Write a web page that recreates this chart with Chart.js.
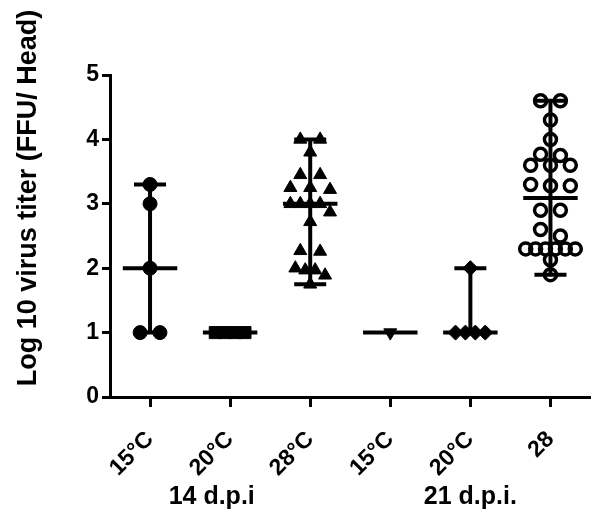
<!DOCTYPE html>
<html><head><meta charset="utf-8">
<script src="https://cdn.jsdelivr.net/npm/chart.js@4.4.0/dist/chart.umd.min.js"></script>
<style>html,body{margin:0;padding:0;background:#fff;}</style>
</head><body>
<canvas id="c" width="600" height="514"></canvas>
<script>
// ---- data ----
const categories = ['15°C', '20°C', '28°C', '15°C', '20°C', '28'];
const groupLabels = ['14 d.p.i', '21 d.p.i.'];
const yTickValues = [0, 1, 2, 3, 4, 5];
const yTitle = 'Log 10 virus titer (FFU/ Head)';

const titer14d15C = [3.3, 3.0, 2.0, 1.0, 1.0];
const titer14d20C = [1.0, 1.0, 1.0, 1.0];
const titer14d28C = [4.0, 4.0, 3.8, 3.45, 3.45, 3.25, 3.22, 3.25, 3.0, 3.0, 3.0, 3.0, 2.87, 2.72, 2.27, 2.26, 2.0, 1.97, 1.97, 1.89, 1.75];
const titer21d15C = [1.0];
const titer21d20C = [2.0, 1.0, 1.0, 1.0, 1.0];
const titer21d28C = [4.6, 4.6, 4.3, 4.0, 3.77, 3.75, 3.6, 3.6, 3.6, 3.3, 3.28, 3.28, 2.9, 2.9, 2.6, 2.5, 2.3, 2.3, 2.3, 2.3, 2.3, 2.3, 2.13, 1.9];

const groups = [titer14d15C, titer14d20C, titer14d28C, titer21d15C, titer21d20C, titer21d28C];

// ---- styles ----
const FONT = "'Liberation Sans', Arial, sans-serif";
const markerStyles = [
  {pointStyle: 'circle', radius: 7, rotation: 0, fill: '#000', bw: 1},
  {pointStyle: 'rect', radius: 8.5, rotation: 0, fill: '#000', bw: 1},
  {pointStyle: 'triangle', radius: 7.5, rotation: 0, fill: '#000', bw: 1},
  {pointStyle: 'triangle', radius: 7.5, rotation: 180, fill: '#000', bw: 1},
  {pointStyle: 'rectRot', radius: 7.5, rotation: 0, fill: '#000', bw: 1},
  {pointStyle: 'circle', radius: 6, rotation: 0, fill: 'rgba(0,0,0,0)', bw: 3.5}
];
const PX_PER_UNIT_X = 80.8;

// simple row-based beeswarm: points within a value row are spread symmetrically
function swarm(vals) {
  const idx = vals.map((v, i) => i).sort((a, b) => vals[b] - vals[a]);
  const offs = new Array(vals.length).fill(0);
  const rows = [];
  let cur = null;
  idx.forEach(i => {
    if (cur && Math.abs(vals[cur[0]] - vals[i]) <= 0.16) cur.push(i);
    else { cur = [i]; rows.push(cur); }
  });
  rows.forEach(r => {
    const n = r.length;
    const step = (n <= 3 ? 20 : 10) / PX_PER_UNIT_X;
    r.forEach((i, k) => { offs[i] = (k - (n - 1) / 2) * step; });
  });
  return offs;
}
function median(a) {
  const s = [...a].sort((x, y) => x - y);
  const m = Math.floor(s.length / 2);
  return s.length % 2 ? s[m] : (s[m - 1] + s[m]) / 2;
}

const datasets = [];
const rangePts = [];
const CAP = 0.2, MED = 0.34;
groups.forEach((vals, gi) => {
  const offs = swarm(vals);
  const st = markerStyles[gi];
  datasets.push({
    type: 'scatter',
    data: vals.map((v, k) => ({x: gi + offs[k], y: v})),
    pointStyle: st.pointStyle,
    pointRadius: st.radius,
    pointRotation: st.rotation,
    pointBackgroundColor: st.fill,
    pointBorderColor: '#000',
    pointBorderWidth: st.bw,
    order: 1
  });
  const mn = Math.min(...vals), mx = Math.max(...vals), md = median(vals);
  rangePts.push(
    {x: gi - CAP, y: mx}, {x: gi + CAP, y: mx}, {x: gi, y: null},
    {x: gi, y: mx}, {x: gi, y: mn}, {x: gi, y: null},
    {x: gi - CAP, y: mn}, {x: gi + CAP, y: mn}, {x: gi, y: null},
    {x: gi - MED, y: md}, {x: gi + MED, y: md}, {x: gi, y: null}
  );
});
datasets.push({
  type: 'line',
  data: rangePts,
  borderColor: '#000',
  borderWidth: 4,
  pointRadius: 0,
  spanGaps: false,
  fill: false,
  tension: 0,
  borderCapStyle: 'butt',
  order: 0
});

const textPlugin = {
  id: 'texts',
  afterDraw(chart) {
    const ctx = chart.ctx;
    const xs = chart.scales.x;
    ctx.save();
    ctx.fillStyle = '#000';
    ctx.font = 'bold 27px ' + FONT;
    ctx.textAlign = 'center';
    ctx.textBaseline = 'middle';
    ctx.translate(29, 198);
    ctx.rotate(-Math.PI / 2);
    ctx.fillText(yTitle, 0, 0);
    ctx.restore();

    ctx.save();
    ctx.fillStyle = '#000';
    ctx.font = 'bold 25px ' + FONT;
    ctx.textAlign = 'center';
    ctx.textBaseline = 'middle';
    ctx.fillText(groupLabels[0], xs.getPixelForValue(0.77), 497);
    ctx.fillText(groupLabels[1], xs.getPixelForValue(4.0), 497);
    ctx.restore();
  }
};

new Chart(document.getElementById('c'), {
  data: {datasets},
  options: {
    responsive: false,
    animation: false,
    devicePixelRatio: 1,
    layout: {padding: {top: 75, right: 5, bottom: 0, left: 0}},
    plugins: {legend: {display: false}, tooltip: {enabled: false}},
    scales: {
      x: {
        type: 'linear',
        min: -0.5,
        max: 5.5,
        afterBuildTicks(scale) { scale.ticks = categories.map((c, i) => ({value: i})); },
        afterFit(scale) { scale.height = 117; scale.paddingLeft = 0; scale.paddingRight = 0; },
        ticks: {
          callback: (v) => categories[v] !== undefined ? categories[v] : '',
          minRotation: 45, maxRotation: 45,
          autoSkip: false,
          color: '#000',
          font: {family: FONT, size: 23, weight: 'bold'},
          padding: 19
        },
        grid: {display: true, drawOnChartArea: false, tickLength: 10, tickWidth: 3, tickColor: '#000'},
        border: {display: true, color: '#000', width: 3}
      },
      y: {
        type: 'linear',
        min: 0,
        max: 5,
        afterBuildTicks(scale) { scale.ticks = yTickValues.map(v => ({value: v})); },
        afterFit(scale) { scale.width = 110; },
        ticks: {
          color: '#000',
          font: {family: FONT, size: 23, weight: 'bold'},
          padding: 3
        },
        grid: {display: true, drawOnChartArea: false, tickLength: 8, tickWidth: 3, tickColor: '#000'},
        border: {display: true, color: '#000', width: 3}
      }
    }
  },
  plugins: [textPlugin]
});
</script>
</body></html>
